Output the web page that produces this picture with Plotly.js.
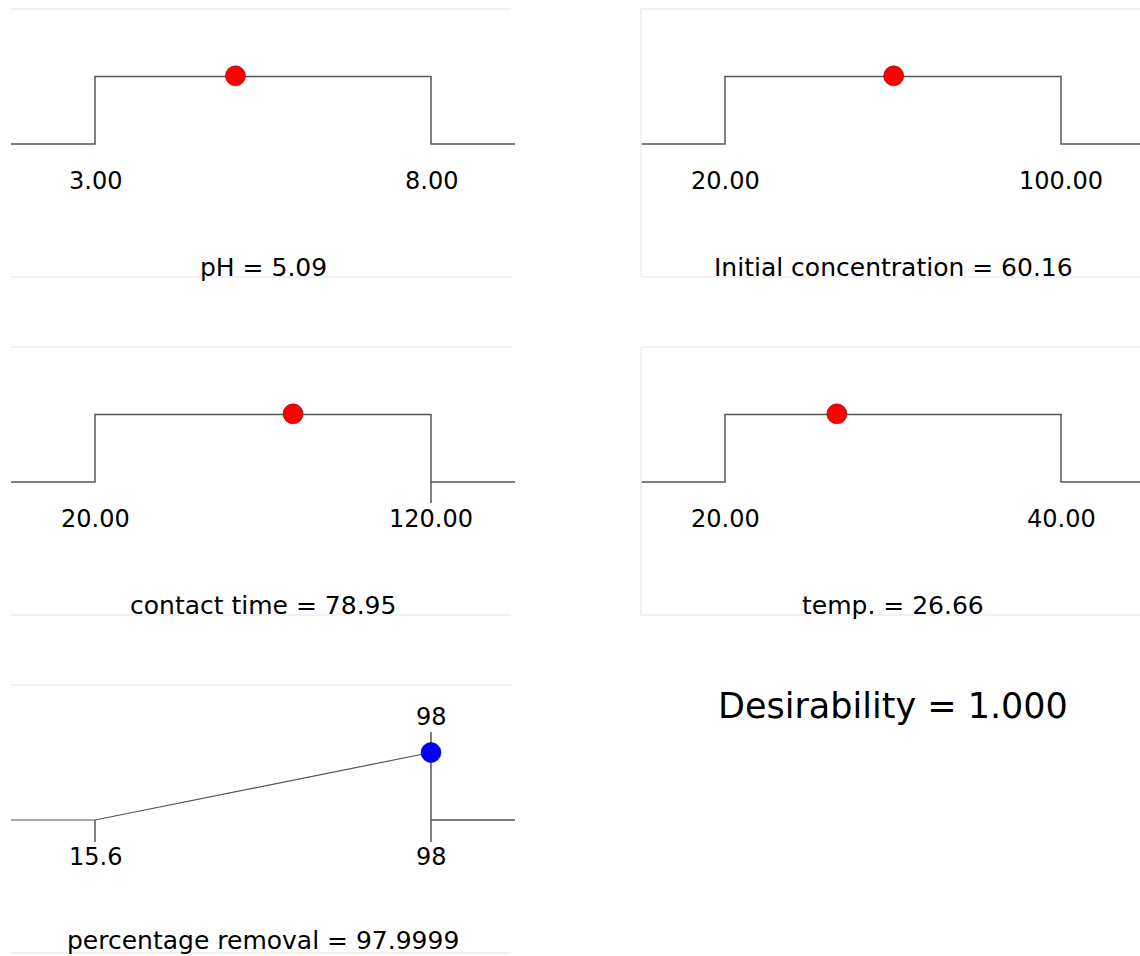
<!DOCTYPE html>
<html>
<head>
<meta charset="utf-8">
<script src="https://cdn.plot.ly/plotly-3.0.1.min.js"></script>
<style>html,body{margin:0;padding:0;background:#fff;}#chart{width:1140px;height:956px;}</style>
</head>
<body>
<div id="chart"></div>
<script>
// ---- data ----
const factorNames = ["pH", "Initial concentration", "contact time", "temp."];
const factorLow = [3, 20, 20, 20];
const factorHigh = [8, 100, 120, 40];
const factorOptimum = [5.09, 60.16, 78.95, 26.66];
const factorLowLabels = ["3.00", "20.00", "20.00", "20.00"];
const factorHighLabels = ["8.00", "100.00", "120.00", "40.00"];
const factorOptimumLabels = ["5.09", "60.16", "78.95", "26.66"];

const responseName = "percentage removal";
const responseLow = 15.6;
const responseHigh = 98;
const responsePredicted = 97.9999;
const responseLowLabel = "15.6";
const responseHighLabel = "98";
const responseTargetLabel = "98";
const responsePredictedLabel = "97.9999";
const desirabilityValue = "1.000";

// ---- layout helpers ----
const W = 1140, H = 956;
const FONT = "DejaVu Sans";
const cols = [[11, 515], [641, 1145]];
const rowTops = [9, 347, 685];
const panelH = 268;
const lineCol = "#555555";
const frameCol = "#ededed";
const tickFont = 24, titleFont = 25;

const traces = [];
const annotations = [];
const shapes = [];
const layout = {
  width: W, height: H, margin: {l: 0, r: 0, t: 0, b: 0},
  paper_bgcolor: "#ffffff", plot_bgcolor: "rgba(0,0,0,0)",
  showlegend: false, font: {family: FONT, color: "#000"}
};

function makePanel(k, col, row, low, high) {
  const c = cols[col];
  const xd0 = c[0], xd1 = Math.min(c[1], W);
  const pL = c[0] + 84, pH = c[0] + 420;
  const sx = (high - low) / (pH - pL);
  const xr = [low - (pL - xd0) * sx, high + (xd1 - pH) * sx];
  const top = rowTops[row], bottom = top + panelH;
  const y0 = top + 135, y1 = top + 67.5;
  const sy = 1 / (y0 - y1);
  const yr = [-(bottom - y0) * sy, (y0 - top) * sy];
  const sfx = k === 1 ? "" : String(k);
  const ax = {visible: false, showgrid: false, zeroline: false, fixedrange: true};
  layout["xaxis" + sfx] = Object.assign({}, ax, {domain: [xd0 / W, xd1 / W], range: xr, anchor: "y" + sfx});
  layout["yaxis" + sfx] = Object.assign({}, ax, {domain: [1 - bottom / H, 1 - top / H], range: yr, anchor: "x" + sfx});
  // faint frame
  const fx1 = col === 0 ? 511 : W;
  [top, bottom].forEach(py => shapes.push({type: "line", xref: "paper", yref: "paper",
    x0: xd0 / W, x1: fx1 / W, y0: 1 - py / H, y1: 1 - py / H, line: {color: frameCol, width: 1.5}}));
  if (col === 1) shapes.push({type: "line", xref: "paper", yref: "paper",
    x0: xd0 / W, x1: xd0 / W, y0: 1 - top / H, y1: 1 - bottom / H, line: {color: frameCol, width: 1.5}});
  const py2y = py => (y0 - py) * sy;
  return {xa: "x" + sfx, ya: "y" + sfx, xr, py2y, top};
}

// ---- factor panels ----
factorNames.forEach((name, i) => {
  const row = Math.floor(i / 2), col = i % 2;
  const lo = factorLow[i], hi = factorHigh[i];
  const p = makePanel(i + 1, col, row, lo, hi);
  traces.push({type: "scatter", mode: "lines", xaxis: p.xa, yaxis: p.ya,
    x: [p.xr[0], lo, lo, hi, hi, p.xr[1]], y: [0, 0, 1, 1, 0, 0],
    line: {color: lineCol, width: 1.5}, hoverinfo: "skip"});
  if (name === "contact time") {
    traces.push({type: "scatter", mode: "lines", xaxis: p.xa, yaxis: p.ya,
      x: [hi, hi], y: [0, p.py2y(p.top + 156)], line: {color: lineCol, width: 1.5}, hoverinfo: "skip"});
  }
  traces.push({type: "scatter", mode: "markers", xaxis: p.xa, yaxis: p.ya,
    x: [factorOptimum[i]], y: [1.01],
    marker: {color: "#ff0000", size: 20, line: {color: "#7a0000", width: 0.6}}, hoverinfo: "skip"});
  const labY = p.py2y(p.top + 172);
  annotations.push({xref: p.xa, yref: p.ya, x: lo, y: labY, text: factorLowLabels[i], showarrow: false,
    xanchor: "center", yanchor: "middle", font: {size: tickFont, family: FONT}});
  annotations.push({xref: p.xa, yref: p.ya, x: hi, y: labY, text: factorHighLabels[i], showarrow: false,
    xanchor: "center", yanchor: "middle", font: {size: tickFont, family: FONT}});
  annotations.push({xref: p.xa, yref: p.ya, x: (lo + hi) / 2, y: p.py2y(p.top + 258),
    text: name + " = " + factorOptimumLabels[i], showarrow: false,
    xanchor: "center", yanchor: "middle", font: {size: titleFont, family: FONT}});
});

// ---- response panel ----
(function () {
  const lo = responseLow, hi = responseHigh;
  const p = makePanel(5, 0, 2, lo, hi);
  const tickY = p.py2y(p.top + 157);
  traces.push({type: "scatter", mode: "lines", xaxis: p.xa, yaxis: p.ya,
    x: [p.xr[0], lo, hi], y: [0, 0, 1], line: {color: lineCol, width: 1.2}, hoverinfo: "skip"});
  traces.push({type: "scatter", mode: "lines", xaxis: p.xa, yaxis: p.ya,
    x: [lo, lo], y: [0, tickY], line: {color: lineCol, width: 1.5}, hoverinfo: "skip"});
  traces.push({type: "scatter", mode: "lines", xaxis: p.xa, yaxis: p.ya,
    x: [hi, hi], y: [p.py2y(p.top + 47), tickY], line: {color: lineCol, width: 1.5}, hoverinfo: "skip"});
  traces.push({type: "scatter", mode: "lines", xaxis: p.xa, yaxis: p.ya,
    x: [hi, p.xr[1]], y: [0, 0], line: {color: lineCol, width: 1.5}, hoverinfo: "skip"});
  traces.push({type: "scatter", mode: "markers", xaxis: p.xa, yaxis: p.ya,
    x: [responsePredicted], y: [1],
    marker: {color: "#0000ff", size: 20, line: {color: "#000066", width: 0.6}}, hoverinfo: "skip"});
  const labY = p.py2y(p.top + 172);
  annotations.push({xref: p.xa, yref: p.ya, x: lo, y: labY, text: responseLowLabel, showarrow: false,
    xanchor: "center", yanchor: "middle", font: {size: tickFont, family: FONT}});
  annotations.push({xref: p.xa, yref: p.ya, x: hi, y: labY, text: responseHighLabel, showarrow: false,
    xanchor: "center", yanchor: "middle", font: {size: tickFont, family: FONT}});
  annotations.push({xref: p.xa, yref: p.ya, x: hi, y: p.py2y(p.top + 32), text: responseTargetLabel, showarrow: false,
    xanchor: "center", yanchor: "middle", font: {size: tickFont, family: FONT}});
  annotations.push({xref: p.xa, yref: p.ya, x: (lo + hi) / 2, y: p.py2y(p.top + 255),
    text: responseName + " = " + responsePredictedLabel, showarrow: false,
    xanchor: "center", yanchor: "middle", font: {size: titleFont, family: FONT}});
})();

// ---- overall desirability ----
annotations.push({xref: "paper", yref: "paper", x: 893 / W, y: 1 - 706 / H,
  text: "Desirability = " + desirabilityValue, showarrow: false,
  xanchor: "center", yanchor: "middle", font: {size: 35, family: FONT}});

layout.annotations = annotations;
layout.shapes = shapes;

Plotly.newPlot("chart", traces, layout, {displayModeBar: false, staticPlot: true});
</script>
</body>
</html>
